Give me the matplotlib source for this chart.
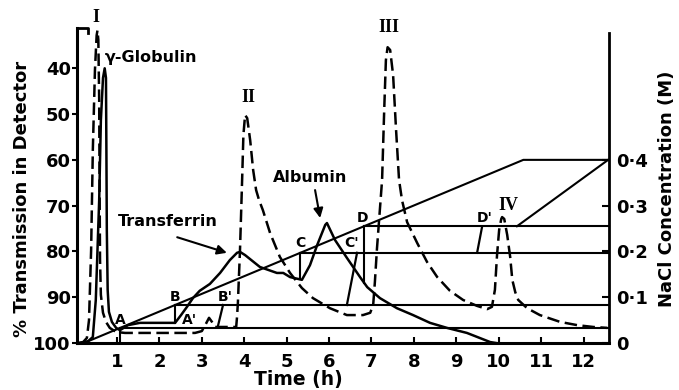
import numpy as np
import matplotlib
matplotlib.use("Agg")
import matplotlib.pyplot as plt

# ---- data -------------------------------------------------------------
# Linear-gradient run: % transmission vs time (h)
lin_t = [0.13, 0.32, 0.43, 0.50, 0.58, 0.62, 0.67, 0.71, 0.74, 0.75, 0.76, 0.78,
         0.81, 0.88, 0.98, 1.07, 1.26, 1.54, 2.37, 2.51, 2.65, 2.79, 2.95, 3.19,
         3.43, 3.66, 3.83, 3.90, 4.02, 4.37, 4.77, 4.92, 5.08, 5.36, 5.55, 5.72,
         5.91, 5.95, 6.14, 6.42, 6.73, 6.90, 7.20, 7.60, 7.98, 8.38, 8.78, 9.25,
         9.80, 9.94]
lin_T = [100, 99.6, 98.7, 90.6, 68.8, 51.3, 42.1, 40.0, 42.1, 57.9, 75.3, 88.4,
         93.2, 95.4, 96.7, 97.2, 96.1, 95.6, 95.6, 93.9, 92.1, 90.2, 88.6, 87.1,
         84.7, 81.9, 80.3, 80.1, 80.8, 83.4, 84.7, 84.7, 85.6, 86.2, 83.0, 78.6,
         74.2, 73.8, 77.5, 81.4, 85.6, 87.8, 90.2, 92.4, 93.9, 95.6, 96.7, 97.8,
         99.8, 100]

# Stepwise run: % transmission vs time (h)
step_t = [0.08, 0.20, 0.29, 0.34, 0.39, 0.43, 0.48, 0.52, 0.54, 0.56, 0.58, 0.59,
          0.60, 0.62, 0.67, 0.74, 0.83, 0.98, 1.19, 2.84, 3.00, 3.08, 3.17, 3.24,
          3.31, 3.81, 3.83, 3.85, 3.90, 3.95, 3.98, 4.02, 4.07, 4.14, 4.21, 4.28,
          4.35, 4.44, 4.61, 4.84, 5.08, 5.36, 5.62, 6.02, 6.42, 6.80, 6.97, 7.04,
          7.08, 7.13, 7.18, 7.25, 7.30, 7.34, 7.38, 7.44, 7.51, 7.58, 7.65, 7.72,
          7.84, 8.08, 8.31, 8.55, 8.85, 9.16, 9.49, 9.73, 9.84, 9.91, 9.96, 10.01,
          10.06, 10.08, 10.13, 10.20, 10.27, 10.32, 10.39, 10.46, 10.67, 10.97,
          11.45, 11.85, 12.23, 12.56]
step_T = [100, 99.8, 98.9, 95.0, 79.7, 57.9, 40.4, 32.8, 31.7, 33.8, 46.9, 66.6,
          81.9, 89.5, 93.4, 95.4, 96.7, 97.6, 97.8, 97.8, 97.4, 96.1, 94.5, 95.4,
          96.5, 96.5, 94.3, 91.3, 79.7, 64.4, 54.6, 50.2, 50.9, 55.7, 62.2, 66.6,
          68.8, 71.0, 76.0, 81.2, 84.7, 88.0, 90.2, 92.4, 93.9, 93.9, 93.4, 91.7,
          86.7, 79.3, 73.1, 64.4, 49.1, 38.2, 35.4, 36.0, 41.5, 53.5, 64.4, 68.8,
          73.6, 78.2, 82.3, 85.6, 88.6, 90.6, 91.9, 92.6, 92.1, 88.4, 80.8, 75.3,
          72.9, 72.5, 72.9, 76.4, 81.2, 86.2, 88.9, 90.6, 92.4, 93.9, 95.4, 96.1,
          96.5, 96.7]

# Linear NaCl gradient (M): start, end, then held
grad_t = [0.22, 10.58, 12.6]
grad_c = [0.0, 0.40, 0.40]

# Step concentrations (M) picked off the linear gradient
step_names = ["A", "B", "C", "D"]
step_c = [0.033, 0.083, 0.197, 0.255]

# Rises of the stepwise salt profile: (t_start, t_end, from level, to level)
rise_names = ["B'", "C'", "D'"]
rise_t0 = [3.38, 6.42, 9.49]
rise_t1 = [3.50, 6.66, 9.61]
rise_from = [0.037, 0.083, 0.197]
rise_to = [0.083, 0.197, 0.255]

# Final linear ramp of the stepwise run
final_t = [10.43, 12.58]
final_c = [0.255, 0.40]

x_ticks = list(range(1, 13))
y_ticks = [40, 50, 60, 70, 80, 90, 100]
c_ticks = [0, 0.1, 0.2, 0.3, 0.4]
c_labels = ["0", "0·1", "0·2", "0·3", "0·4"]

# ---- figure -----------------------------------------------------------
W, H = 679, 390
fig = plt.figure(figsize=(W / 100, H / 100), dpi=100)
x0, x1, yb, yt = 77, 609, 343, 28
ax = fig.add_axes([x0 / W, (H - yb) / H, (x1 - x0) / W, (yb - yt) / H])
XMIN, XMAX = 0.057, 12.6
TBOT, TTOP = 100, 31.2
ax.set_xlim(XMIN, XMAX)
ax.set_ylim(TBOT, TTOP)

ax2 = ax.twinx()
ax2.set_ylim((100 - TBOT) / 100, (100 - TTOP) / 100)

ink = "black"
LW = 1.8
bold = dict(fontweight="bold", color=ink)

# curves
ax.plot(lin_t, lin_T, color=ink, lw=LW, solid_joinstyle="round", clip_on=False)
ax.plot(step_t, step_T, color=ink, lw=LW, dashes=(5, 2.2), clip_on=False)

# gradient line
ax2.plot(grad_t, grad_c, color=ink, lw=1.5)
t0, t1 = grad_t[0], grad_t[1]
c1 = grad_c[1]

def t_on_gradient(c):
    return t0 + c / c1 * (t1 - t0)

# step levels, drawn from the gradient to the right-hand axis
for name, c in zip(step_names, step_c):
    tg = t_on_gradient(c)
    ax2.plot([tg, XMAX], [c, c], color=ink, lw=1.5, clip_on=False)
    # drop line from the gradient to the linear-run trace
    if name == "A":
        c_low = 0.0
    else:
        c_low = (100 - np.interp(tg, lin_t, lin_T)) / 100
    ax2.plot([tg, tg], [c, c_low], color=ink, lw=1.5)

# rises of the stepwise profile
for a, b, cf, ct in zip(rise_t0, rise_t1, rise_from, rise_to):
    ax2.plot([a, b], [cf, ct], color=ink, lw=1.6)
ax2.plot(final_t, final_c, color=ink, lw=1.5)

# ---- spines and ticks --------------------------------------------------
for s in ["top", "right"]:
    ax.spines[s].set_visible(False)
for s in ["top", "left", "bottom"]:
    ax2.spines[s].set_visible(False)
ax.spines["left"].set_linewidth(2.2)
ax.spines["bottom"].set_linewidth(2.2)
ax2.spines["right"].set_linewidth(2.0)
ax2.spines["right"].set_bounds(0, 0.677)
# small hook at the top of the left axis
ax.plot([0, 0.02, 0.02], [1, 1, 0.985], transform=ax.transAxes,
        color=ink, lw=2.0, clip_on=False)

ax.set_xticks(x_ticks)
ax.set_xticklabels([str(v) for v in x_ticks])
ax.tick_params(axis="x", direction="in", length=4.5, width=1.5, pad=7,
               labelsize=13)
ax.set_yticks(y_ticks)
ax.set_yticklabels([str(v) for v in y_ticks])
ax.tick_params(axis="y", direction="out", length=3.5, width=1.5, pad=1,
               labelsize=13)
ax2.set_yticks(c_ticks)
ax2.set_yticklabels(c_labels)
ax2.tick_params(axis="y", direction="in", length=5, width=1.5, pad=5,
                labelsize=13)
for lab in ax.get_xticklabels() + ax.get_yticklabels() + ax2.get_yticklabels():
    lab.set_fontweight("bold")

fig.text(22 / W, 1 - 199 / H, "% Transmission in Detector", rotation=90,
         ha="center", va="center", fontsize=13, **bold)
fig.text(667 / W, 1 - 189 / H, "NaCl Concentration (M)", rotation=90,
         ha="center", va="center", fontsize=13, **bold)
fig.text(298 / W, 1 - 380 / H, "Time (h)", ha="center", va="center",
         fontsize=13.5, **bold)

# ---- annotations -------------------------------------------------------
ax.text(0.72, 37.6, "γ-Globulin", ha="left", va="center", fontsize=11.5, **bold)
ax.text(2.20, 73.4, "Transferrin", ha="center", va="center", fontsize=11.5, **bold)
ax.text(5.55, 63.8, "Albumin", ha="center", va="center", fontsize=11.5, **bold)
ax.annotate("", xy=(3.59, 80.3), xytext=(2.42, 76.9),
            arrowprops=dict(arrowstyle="-|>", color=ink, lw=1.5,
                            mutation_scale=14, shrinkA=0, shrinkB=0))
ax.annotate("", xy=(5.79, 72.7), xytext=(5.67, 66.6),
            arrowprops=dict(arrowstyle="-|>", color=ink, lw=1.5,
                            mutation_scale=14, shrinkA=0, shrinkB=0))

roman = dict(family="Liberation Serif", fontweight="bold", fontsize=13,
             ha="center", va="center", color=ink)
for s, tx, ty in [("I", 0.50, 29.0), ("II", 4.09, 46.3),
                  ("III", 7.41, 31.0), ("IV", 10.22, 70.0)]:
    ax.text(tx, ty, s, clip_on=False, **roman)

letter_pos = {"A": (1.07, 95.0), "B": (2.37, 90.0), "C": (5.32, 78.2),
              "D": (6.78, 72.7), "A'": (2.70, 95.0), "B'": (3.55, 90.0),
              "C'": (6.52, 78.2), "D'": (9.68, 72.7)}
for s, (tx, ty) in letter_pos.items():
    ax.text(tx, ty, s, ha="center", va="center", fontsize=10, **bold)

fig.savefig("out.png", dpi=100)
